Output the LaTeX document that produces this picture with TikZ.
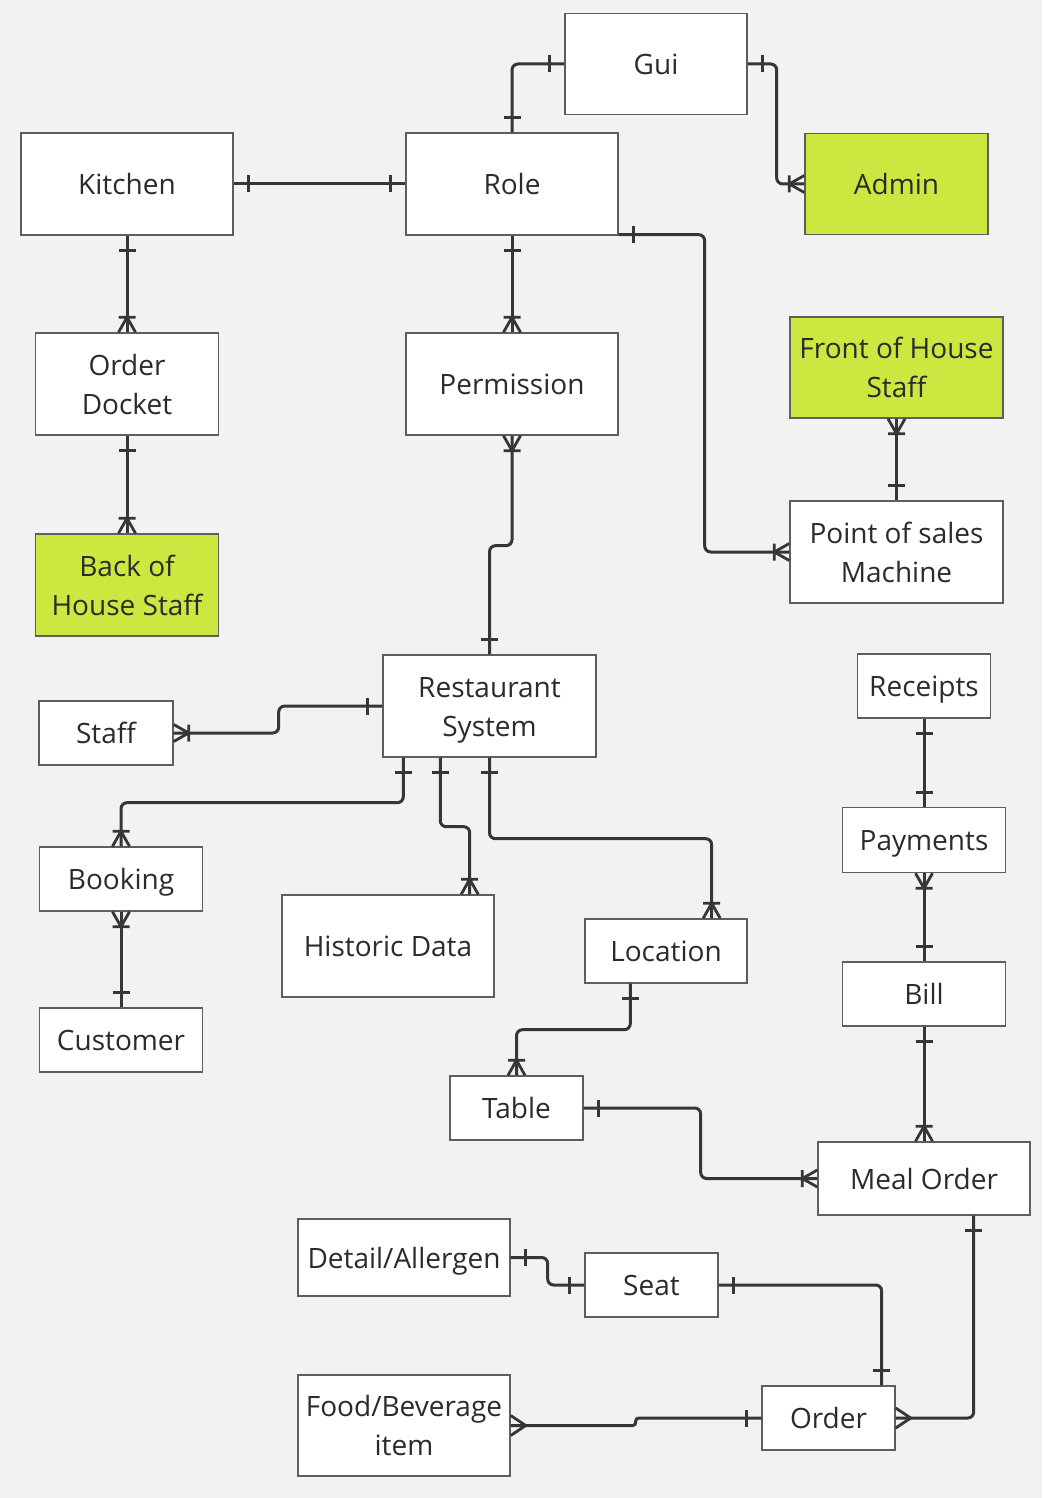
\documentclass[tikz,border=0pt]{standalone}
\usepackage{fontspec}
\setmainfont{Open Sans}
\usetikzlibrary{decorations.markings,calc}
\definecolor{bgc}{HTML}{F2F2F2}
\definecolor{limec}{HTML}{CEE740}
\definecolor{lnc}{HTML}{363636}
\definecolor{bdc}{HTML}{5E5E5E}
\definecolor{txc}{HTML}{2B2B2B}
% each text line gets the same height and depth, whatever its letters
\newcommand{\tl}[1]{\smash{#1}\rule[-8.2pt]{0pt}{38.1pt}}
\tikzset{
  ent/.style={draw=bdc, line width=1.4pt, fill=white, inner sep=0pt, align=center,
    text=txc, font=\fontsize{28}{39}\selectfont},
  grn/.style={ent, fill=limec},
  conn/.style={draw=lnc, line width=3pt, rounded corners=6pt},
  mk/.style={draw=lnc, line width=2.8pt, sharp corners},
  oneS/.style={postaction={decorate,decoration={markings,
    mark=at position 14.5pt with {\draw[mk] (0,-8.5pt)--(0,8.5pt);}}}},
  oneE/.style={postaction={decorate,decoration={markings,
    mark=at position -14.5pt with {\draw[mk] (0,-8.5pt)--(0,8.5pt);}}}},
  manyS/.style={postaction={decorate,decoration={markings,
    mark=at position 15pt with {\draw[mk] (0,-8.5pt)--(0,8.5pt) (-15pt,-8.5pt)--(0,0)--(-15pt,8.5pt);}}}},
  manyE/.style={postaction={decorate,decoration={markings,
    mark=at position -15pt with {\draw[mk] (0,-8.5pt)--(0,8.5pt) (15pt,-8.5pt)--(0,0)--(15pt,8.5pt);}}}},
  crowS/.style={postaction={decorate,decoration={markings,
    mark=at position 15pt with {\draw[mk] (-15pt,-10pt)--(0,0)--(-15pt,10pt);}}}},
  crowE/.style={postaction={decorate,decoration={markings,
    mark=at position -15pt with {\draw[mk] (15pt,-10pt)--(0,0)--(15pt,10pt);}}}},
}
\begin{document}
\begin{tikzpicture}[x=1pt,y=-1pt]
\path[fill=bgc, use as bounding box] (0,0) rectangle (1042,1498);

% entities
\node[ent, minimum width=182pt, minimum height=101pt] (gui) at (656,64) {\tl{Gui}};
\node[ent, minimum width=212pt, minimum height=102pt] (kitchen) at (127,184) {\tl{Kitchen}};
\node[ent, minimum width=212pt, minimum height=102pt] (role) at (512,184) {\tl{Role}};
\node[grn, minimum width=183pt, minimum height=101pt] (admin) at (896.5,184) {\tl{Admin}};
\node[ent, minimum width=183pt, minimum height=102pt] (docket) at (127,384) {\tl{Order}\\\tl{Docket}};
\node[ent, minimum width=212pt, minimum height=102pt] (perm) at (512,384) {\tl{Permission}};
\node[grn, minimum width=213pt, minimum height=101pt] (foh) at (896.5,367.5) {\tl{Front of House}\\\tl{Staff}};
\node[ent, minimum width=213pt, minimum height=102pt] (pos) at (896.5,552) {\tl{Point of sales}\\\tl{Machine}};
\node[grn, minimum width=183pt, minimum height=102pt] (boh) at (127,585) {\tl{Back of}\\\tl{House Staff}};
\node[ent, minimum width=213pt, minimum height=102pt] (rs) at (489.5,706) {\tl{Restaurant}\\\tl{System}};
\node[ent, minimum width=134pt, minimum height=64pt] (staff) at (106,733) {\tl{Staff}};
\node[ent, minimum width=133pt, minimum height=64pt] (receipts) at (924,686) {\tl{Receipts}};
\node[ent, minimum width=163pt, minimum height=64pt] (booking) at (121,879) {\tl{Booking}};
\node[ent, minimum width=212pt, minimum height=102pt] (hist) at (388,946) {\tl{Historic Data}};
\node[ent, minimum width=162pt, minimum height=64pt] (loc) at (666,951) {\tl{Location}};
\node[ent, minimum width=163pt, minimum height=65pt] (pay) at (924,840) {\tl{Payments}};
\node[ent, minimum width=163pt, minimum height=64pt] (bill) at (924,994) {\tl{Bill}};
\node[ent, minimum width=163pt, minimum height=64pt] (cust) at (121,1040) {\tl{Customer}};
\node[ent, minimum width=133pt, minimum height=64pt] (table) at (516.5,1108) {\tl{Table}};
\node[ent, minimum width=212pt, minimum height=73pt] (meal) at (924,1178.5) {\tl{Meal Order}};
\node[ent, minimum width=212pt, minimum height=77pt] (detail) at (404,1257.5) {\tl{Detail/Allergen}};
\node[ent, minimum width=133pt, minimum height=64pt] (seat) at (651.5,1285) {\tl{Seat}};
\node[ent, minimum width=212pt, minimum height=101pt] (fb) at (404,1425.5) {\tl{Food/Beverage}\\\tl{item}};
\node[ent, minimum width=133pt, minimum height=64pt] (order) at (828.5,1418) {\tl{Order}};

% connectors
\draw[conn, oneS, oneE] (role.north) |- (gui.west);
\draw[conn, oneS, manyE] (gui.east) -- ++(29,0) |- (admin.west);
\draw[conn, oneS, oneE] (kitchen.east) -- (role.west);
\draw[conn, oneS, manyE] (kitchen.south) -- (docket.north);
\draw[conn, oneS, manyE] (docket.south) -- (boh.north);
\draw[conn, oneS, manyE] (role.south) -- (perm.north);
\draw[conn, oneS, manyE] ($(role.south east)+(0,-1)$) -- ++(86,0) |- (pos.west);
\draw[conn, manyS, oneE] (foh.south) -- (pos.north);
\draw[conn, manyS, oneE] (perm.south) -- ++(0,110) -| (rs.north);
\draw[conn, manyS, oneE] (staff.east) -- ++(105,0) |- (rs.west);
\draw[conn, oneS, manyE] ($(rs.south west)+(21,0)$) -- ++(0,45) -| (booking.north);
\draw[conn, oneS, manyE] ($(rs.south west)+(58,0)$) -- ++(0,69) -| ($(hist.north east)+(-25,0)$);
\draw[conn, oneS, manyE] (rs.south) -- ++(0,81) -| ($(loc.north east)+(-36,0)$);
\draw[conn, manyS, oneE] (booking.south) -- (cust.north);
\draw[conn, oneS, oneE] (receipts.south) -- (pay.north);
\draw[conn, manyS, oneE] (pay.south) -- (bill.north);
\draw[conn, oneS, manyE] (bill.south) -- (meal.north);
\draw[conn, oneS, manyE] ($(loc.south west)+(46,0)$) -- ++(0,46) -| (table.north);
\draw[conn, oneS, manyE] (table.east) -- ++(117,0) |- (meal.west);
\draw[conn, oneS, oneE] (detail.east) -- ++(37,0) |- (seat.west);
\draw[conn, oneS, oneE] (seat.east) -| ($(order.north east)+(-14,0)$);
\draw[conn, oneS, crowE] ($(meal.south east)+(-57,0)$) |- (order.east);
\draw[conn, rounded corners=3pt, crowS, oneE] (fb.east) -- ++(125,0) |- (order.west);
\end{tikzpicture}
\end{document}
